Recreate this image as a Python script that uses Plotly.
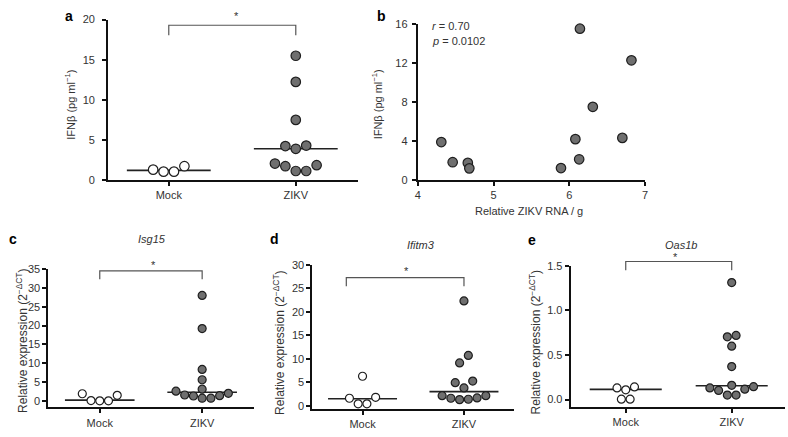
import numpy as np
import plotly.graph_objects as go

W, H = 788, 437

# ---------------- data ----------------
groups = ["Mock", "ZIKV"]

a_mock = [1.30, 1.05, 1.05, 1.73]
a_zikv = [15.5, 12.24, 7.5, 4.24, 3.9, 4.3, 2.06, 1.73, 1.13, 1.13, 1.86]
a_median = [1.21, 3.9]

b_rna = [4.31, 4.46, 4.66, 4.68, 5.89, 6.08, 6.13, 6.14, 6.31, 6.70, 6.82]
b_ifn = [3.89, 1.83, 1.76, 1.20, 1.23, 4.19, 2.13, 15.5, 7.5, 4.32, 12.26]
b_stats = ["<i>r</i> = 0.70", "<i>p</i> = 0.0102"]

c_mock = [1.89, 0.08, 0.0, 0.0, 1.47]
c_zikv = [28.0, 19.2, 8.34, 5.6, 3.1, 2.58, 1.55, 1.29, 0.70, 0.70, 1.37, 1.99]
c_median = [0.2, 2.3]

d_mock = [6.27, 1.59, 0.41, 0.41, 1.80]
d_zikv = [22.3, 10.7, 9.1, 4.9, 5.24, 3.79, 2.13, 1.66, 1.38, 1.30, 1.59, 2.13]
d_median = [1.5, 3.0]

e_mock = [0.131, 0.109, 0.142, 0.005, 0.005]
e_zikv = [1.314, 0.72, 0.705, 0.60, 0.37, 0.16, 0.131, 0.103, 0.051, 0.051, 0.117, 0.145]
e_median = [0.115, 0.155]

FONT = "Liberation Sans, Arial, Helvetica, sans-serif"
TXT = "#333333"
FILL_Z = "#6f6f6f"
EDGE = "#1e1e1e"

# ---------------- layout of panels (pixels) ----------------
panels = {
    "a": dict(x=(106, 358), y=(14, 179), xr=(-0.477, 1.492), yr=(0, 20), yt=[0, 5, 10, 15, 20], ys=5),
    "b": dict(x=(418, 647), y=(18.3, 179), xr=(4, 7), yr=(0, 16), yt=[0, 4, 8, 12, 16], ys=2),
    "c": dict(x=(45.7, 253), y=(270.5, 412.7), xr=(-0.502, 1.507), yr=(-1.73, 35), yt=list(range(0, 36, 5)), ys=0),
    "d": dict(x=(311.7, 515), y=(266, 414.5), xr=(-0.495, 1.494), yr=(-0.72, 30), yt=list(range(0, 31, 5)), ys=0),
    "e": dict(x=(572, 788), y=(267.3, 412.3), xr=(-0.52, 1.503), yr=(-0.083, 1.5), yt=[0, 0.5, 1.0, 1.5], ys=0),
}
axis_ids = {"a": "", "b": "2", "c": "3", "d": "4", "e": "5"}


def px(xp):
    return xp / W


def py(yp):
    return 1 - yp / H


def scales(p):
    cfg = panels[p]
    ppx = (cfg["x"][1] - cfg["x"][0]) / (cfg["xr"][1] - cfg["xr"][0])
    ppy = (cfg["y"][1] - cfg["y"][0]) / (cfg["yr"][1] - cfg["yr"][0])
    return ppx, ppy


def data_to_pixel(p, xv, yv):
    cfg = panels[p]
    ppx, ppy = scales(p)
    return cfg["x"][0] + (xv - cfg["xr"][0]) * ppx, cfg["y"][1] - (yv - cfg["yr"][0]) * ppy


def swarm(values, center, ppx, ppy, bin_px, step_px):
    vals = np.asarray(values, float)
    order = np.argsort(vals, kind="stable")
    xs = np.zeros(len(vals))
    rows, cur = [], []
    for idx in order:
        if cur and (vals[idx] - vals[cur[0]]) * ppy >= bin_px:
            rows.append(cur)
            cur = []
        cur.append(idx)
    if cur:
        rows.append(cur)
    for row in rows:
        n = len(row)
        if n % 2:
            slots = [0.0]
            first = 1 if n >= 5 else -1
            for k in range(1, n // 2 + 1):
                slots += [first * k, -first * k]
        else:
            slots = []
            for k in range(n // 2):
                slots += [-(k + 0.5), k + 0.5]
        for idx, s in zip(row, slots):
            xs[idx] = center + s * step_px / ppx
    return xs


fig = go.Figure()
layout = dict(
    width=W, height=H, margin=dict(l=0, r=0, t=0, b=0),
    paper_bgcolor="white", plot_bgcolor="white", showlegend=False,
    font=dict(family=FONT, size=11, color=TXT),
)

for p, cfg in panels.items():
    sid = axis_ids[p]
    xa = dict(
        domain=[px(cfg["x"][0]), px(cfg["x"][1])], range=list(cfg["xr"]),
        anchor="y" + sid, showgrid=False, zeroline=False, showline=True,
        linecolor="#111111", linewidth=2, ticks="outside", ticklen=4, tickwidth=2,
        tickcolor="#111111", tickfont=dict(size=11, color=TXT, family=FONT),
    )
    if p == "b":
        xa.update(tickvals=[4, 5, 6, 7])
    else:
        xa.update(tickvals=[0, 1], ticktext=groups)
    ya = dict(
        domain=[py(cfg["y"][1]), py(cfg["y"][0])], range=list(cfg["yr"]),
        anchor="x" + sid, showgrid=False, zeroline=False, showline=True,
        linecolor="#111111", linewidth=2, ticks="outside", ticklen=4, tickwidth=2,
        tickcolor="#111111", tickvals=cfg["yt"], tickfont=dict(size=11, color=TXT, family=FONT),
        ticklabelstandoff=cfg["ys"],
    )
    if p == "e":
        ya.update(tickformat=".1f")
    layout["xaxis" + sid] = xa
    layout["yaxis" + sid] = ya

# ---------------- dot plots ----------------
dot_sets = {
    "a": (a_mock, a_zikv, a_median, 9.5, 10.5, 10.0, 0.33),
    "c": (c_mock, c_zikv, c_median, 8.0, 8.8, 8.85, 0.34),
    "d": (d_mock, d_zikv, d_median, 8.0, 8.8, 8.85, 0.34),
    "e": (e_mock, e_zikv, e_median, 8.0, 8.8, 8.85, 0.34),
}
for p, (mock, zikv, med, msize, step, binpx, half) in dot_sets.items():
    sid = axis_ids[p]
    ppx, ppy = scales(p)
    for gi, (vals, fill) in enumerate([(mock, "white"), (zikv, FILL_Z)]):
        xs = swarm(vals, gi, ppx, ppy, binpx, step)
        fig.add_trace(go.Scatter(
            x=[gi - half, gi + half], y=[med[gi], med[gi]], mode="lines",
            xaxis="x" + sid, yaxis="y" + sid, line=dict(color="#222222", width=1.6),
            hoverinfo="skip",
        ))
        fig.add_trace(go.Scatter(
            x=xs, y=vals, mode="markers", xaxis="x" + sid, yaxis="y" + sid,
            marker=dict(size=msize, color=fill, line=dict(color=EDGE, width=1.2)),
            cliponaxis=False, hoverinfo="skip",
        ))

# correlation scatter (b)
fig.add_trace(go.Scatter(
    x=b_rna, y=b_ifn, mode="markers", xaxis="x2", yaxis="y2",
    marker=dict(size=9.5, color=FILL_Z, line=dict(color=EDGE, width=1.2)),
    cliponaxis=False, hoverinfo="skip",
))

fig.update_layout(**layout)

# ---------------- significance brackets (drawn in paper space from data values) ----------------
brackets = {
    "a": (0.0, 1.0, 18.06, 19.3, 0.5, 20.4),
    "c": (0.0, 1.0, 32.3, 34.5, 0.48, 36.0),
    "d": (-0.16, 1.0, 25.4, 27.25, 0.43, 28.6),
    "e": (0.0, 1.0, 1.452, 1.55, 0.51, 1.595),
}
for p, (x0, x1, ylo, yhi, sx, sy) in brackets.items():
    X0, Ylo = data_to_pixel(p, x0, ylo)
    X1, Yhi = data_to_pixel(p, x1, yhi)
    fig.add_shape(
        type="path", xref="paper", yref="paper",
        path=f"M {px(X0)},{py(Ylo)} L {px(X0)},{py(Yhi)} L {px(X1)},{py(Yhi)} L {px(X1)},{py(Ylo)}",
        line=dict(color="#555555", width=1.2),
    )
    SX, SY = data_to_pixel(p, sx, sy)
    fig.add_annotation(
        x=px(SX), y=py(SY), xref="paper", yref="paper", text="*", showarrow=False,
        font=dict(size=11, color=TXT, family=FONT), yanchor="middle",
    )

# ---------------- text ----------------
def note(x, y, text, size=11, bold=False, italic=False, angle=0, xanchor="center", color=TXT):
    t = text
    if bold:
        t = f"<b>{t}</b>"
    if italic:
        t = f"<i>{t}</i>"
    fig.add_annotation(
        x=px(x), y=py(y), xref="paper", yref="paper", text=t, showarrow=False,
        textangle=angle, xanchor=xanchor, yanchor="middle",
        font=dict(size=size, color=color, family=FONT),
    )

# panel letters
for letter, (lx, ly) in {"a": (67, 10), "b": (381, 10), "c": (10, 240),
                         "d": (273.5, 240), "e": (533.5, 241)}.items():
    note(lx, ly, letter, size=14, bold=True, color="#000000")

# gene titles
note(150, 240, "Isg15", size=11, italic=True)
note(421.7, 246, "Ifitm3", size=11, italic=True)
note(683, 246, "Oas1b", size=11, italic=True)

# y-axis titles
ifn_title = "IFNβ (pg ml<sup>−1</sup>)"
rel_title = "Relative expression (2<sup>−ΔCT</sup>)"
note(68, 101, ifn_title, size=11, angle=-90)
note(377, 101, ifn_title, size=11, angle=-90)
note(18.5, 344, rel_title, size=12, angle=-90)
note(278.5, 346, rel_title, size=12, angle=-90)
note(537, 346, rel_title, size=12, angle=-90)

# x-axis title for b
note(530, 211, "Relative ZIKV RNA / g", size=11)

# r / p statistics
note(430, 21, b_stats[0], size=11, xanchor="left")
note(430, 36, b_stats[1], size=11, xanchor="left")

fig.write_html(
    "out.html",
    config={"displayModeBar": False},
    post_script="document.body.style.margin='0px';document.body.style.padding='0px';",
)
